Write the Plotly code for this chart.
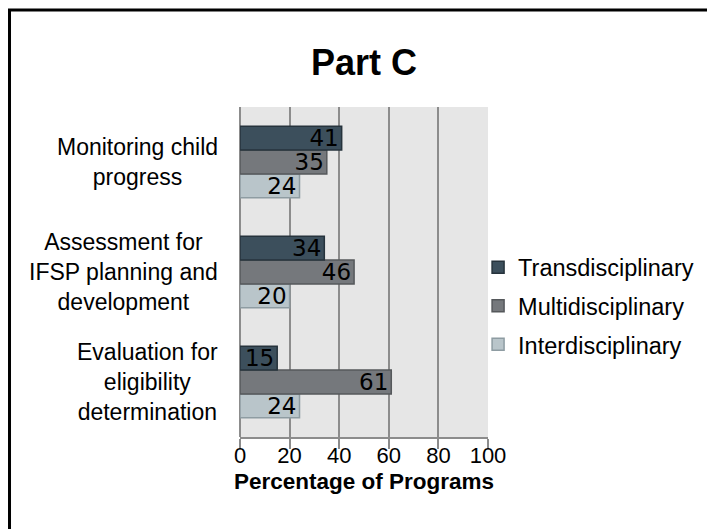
import plotly.graph_objects as go

categories = ["Evaluation for<br>eligibility<br>determination",
              "Assessment for<br>IFSP planning and<br>development",
              "Monitoring child<br>progress"]
interdisciplinary = [24, 20, 24]
multidisciplinary = [61, 46, 35]
transdisciplinary = [15, 34, 41]

series = [
    ("Interdisciplinary", interdisciplinary, "#b9c5ca", "#8e9ca2", 3),
    ("Multidisciplinary", multidisciplinary, "#75787c", "#55585b", 2),
    ("Transdisciplinary", transdisciplinary, "#3c4f5c", "#26333c", 1),
]

fig = go.Figure()
for name, vals, fill, edge, rank in series:
    fig.add_trace(go.Bar(
        y=categories, x=vals, name=name, orientation="h",
        legendgroup=name, legendrank=rank,
        marker=dict(color=fill, line=dict(color=edge, width=1.5)),
        text=vals, textposition="inside", insidetextanchor="end",
        textfont=dict(family="DejaVu Sans", size=23, color="black"),
    ))

# category labels, centred lines like the original
for c in categories:
    fig.add_annotation(x=-0.081, y=c, xref="paper", yref="y", text=c,
                       showarrow=False, xanchor="right", align="center",
                       font=dict(family="Liberation Sans", size=23, color="black"))

fig.add_annotation(x=0.5, y=1.136, xref="paper", yref="paper", text="<b>Part C</b>",
                   showarrow=False, yanchor="middle",
                   font=dict(family="Liberation Sans", size=36, color="black"))

# x axis title as annotation for finer placement
fig.add_annotation(x=0.5, y=-0.136, xref="paper", yref="paper",
                   text="<b>Percentage of Programs</b>",
                   showarrow=False, yanchor="middle",
                   font=dict(family="Liberation Sans", size=22.5, color="black"))

# frame around the chart
fig.add_shape(type="rect", xref="paper", yref="paper",
              x0=-0.9294, x1=1.95, y0=-0.31, y1=1.294,
              line=dict(color="black", width=3))

fig.update_layout(
    width=715, height=529,
    margin=dict(l=232, r=235, t=99, b=100),
    paper_bgcolor="white", plot_bgcolor="#e6e6e6",
    barmode="group", bargap=0.35, bargroupgap=0,
    uniformtext=dict(minsize=23, mode="show"),
    font=dict(family="Liberation Sans", size=23, color="black"),
    legend=dict(x=0.96, y=0.397, xanchor="left", yanchor="middle",
                traceorder="grouped", tracegroupgap=5,
                font=dict(size=23.5), bgcolor="rgba(0,0,0,0)"),
    showlegend=True,
)
fig.update_xaxes(range=[0, 100], dtick=20, showgrid=True, gridcolor="#8c8c8c", gridwidth=2,
                 zeroline=True, zerolinecolor="#8c8c8c", zerolinewidth=2,
                 showline=True, linecolor="#8c8c8c", linewidth=2,
                 ticks="outside", ticklen=10, tickwidth=2, tickcolor="#8c8c8c",
                 tickfont=dict(size=22), ticklabelstandoff=-12)
fig.update_yaxes(showticklabels=False, showgrid=False, zeroline=False)

fig.write_html("out.html")
